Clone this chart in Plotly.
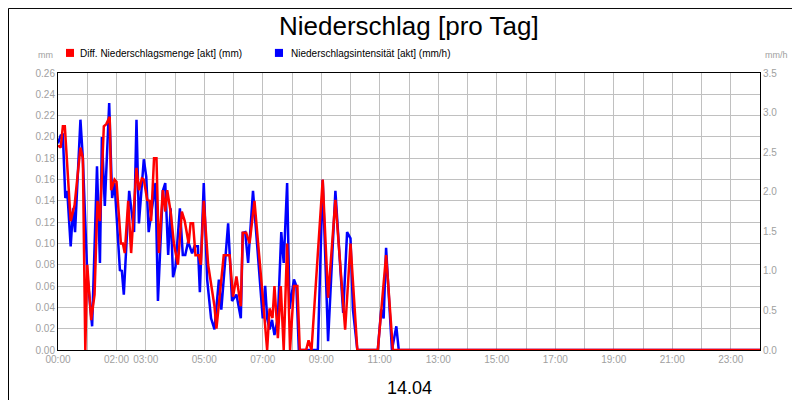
import plotly.graph_objects as go

# time in minutes since 00:00
red_t = [0,5.5,10,14,26,34,46,51,56,60,68,75,81,86,94,99,106,109,116,120,129,133,137,144,150,161,166,172,176,183,188,191,197,202,207,215,220,224,231,238,246,254,260,268,272,277,282,289,293,299,308,314,321,325,330,340,352,359,366,375,379,386,393,403,420,429,434,440,444,451,457,463,470,476,484,491,496,509,514,520,543,554,569,589,600,614,656,673,687,1440]
red_v = [0.192,0.190,0.21,0.21,0.121,0.136,0.19,0.18,0,0.08,0.028,0.052,0.14,0.121,0.21,0.212,0.219,0.15,0.16,0.158,0.10,0.10,0.091,0.14,0.091,0.171,0.15,0.161,0.16,0.141,0.14,0.121,0.18,0.18,0.091,0.15,0.13,0.15,0.13,0.099,0.08,0.13,0.121,0.10,0.119,0.119,0.089,0.089,0.08,0.14,0.08,0.061,0.041,0.02,0.041,0.089,0.089,0.05,0.069,0.041,0.11,0.11,0.10,0.14,0.05,0,0.039,0.03,0.06,0.011,0.06,0,0.10,0,0.06,0.06,0,0,0.009,0,0.16,0.049,0.141,0.019,0.10,0,0,0.089,0,0]

blue_t = [0,5.5,10,15,19,26,31,35,46,51,60,67,70,80,86,90,96,105,111,116,127,131,135,146,156,161,166,176,181,186,200,205,215,220,226,231,236,241,250,256,261,267,275,280,287,291,299,306,314,321,330,335,349,357,366,375,379,384,390,400,420,425,429,434,439,444,451,458,463,470,475,484,489,494,533,543,554,569,585,593,600,605,614,656,663,668,673,685,694,699,1440]
blue_v = [2.61,2.71,2.72,1.92,2.01,1.31,1.79,1.49,2.91,2.42,0.96,0.42,0.30,2.32,1.10,2.69,1.82,3.12,1.92,2.11,1.01,1.0,0.70,2.01,1.49,2.91,1.60,2.41,2.19,1.49,2.11,0.62,2.01,2.11,1.20,1.79,0.92,1.05,1.79,1.20,1.20,1.37,1.22,1.31,1.31,0.73,2.11,0.89,0.40,0.26,0.89,0.51,1.60,0.62,0.70,0.40,1.48,1.49,1.10,2.01,0.40,0.81,0.40,0.26,0.38,0.19,0.40,1.49,1.10,2.11,0.52,0.89,0.81,0,0,2.15,0.11,2.01,0.47,1.49,1.41,0.51,0,0,0.51,0.40,1.29,0,0.30,0,0]

tick_vals = [0,120,180,300,420,540,660,780,900,1020,1140,1260,1380]
tick_text = ["00:00","02:00","03:00","05:00","07:00","09:00","11:00","13:00","15:00","17:00","19:00","21:00","23:00"]

RED = "#ff0000"
BLUE = "#0000ff"
GRID = "#c0c0c0"
TXT = "#a0a0a0"

fig = go.Figure()
fig.add_trace(go.Scatter(x=blue_t, y=blue_v, mode="lines", yaxis="y",
                         line=dict(color=BLUE, width=2.5), showlegend=False))
fig.add_trace(go.Scatter(x=red_t, y=red_v, mode="lines", yaxis="y2",
                         line=dict(color=RED, width=2.5), showlegend=False))

fig.update_layout(
    width=800, height=400,
    margin=dict(l=50, r=48, t=65, b=58, autoexpand=False),
    paper_bgcolor="white", plot_bgcolor="white",
    font=dict(family="Liberation Sans, Arial", size=10, color=TXT),
    showlegend=False,
    xaxis=dict(range=[0,1440], tickvals=tick_vals, ticktext=tick_text, showgrid=True,
               gridcolor=GRID, gridwidth=1, zeroline=False, showline=True, linecolor="black",
               linewidth=1, mirror=True, ticks="", tickfont=dict(size=10, color=TXT),
               minor=dict(dtick=60, tick0=0, showgrid=True, gridcolor=GRID, gridwidth=1)),
    yaxis=dict(range=[0,3.5], dtick=0.5, tickformat=".1f", side="right", showgrid=False,
               zeroline=False, showline=True, linecolor="black", ticks="",
               tickfont=dict(size=10, color=TXT)),
    yaxis2=dict(range=[0,0.26], dtick=0.02, tickformat=".2f", side="left", overlaying="y",
                showgrid=True, gridcolor=GRID, zeroline=False, showline=True, linecolor="black",
                ticks="", tickfont=dict(size=10, color=TXT)),
    annotations=[
        dict(text="Niederschlag [pro Tag]", xref="paper", yref="paper", x=0.5, y=1.17,
             xanchor="center", yanchor="middle", showarrow=False, font=dict(size=26, color="black")),
        dict(text="Diff. Niederschlagsmenge [akt] (mm)", xref="paper", yref="paper", x=0.0285, y=1.072,
             xanchor="left", yanchor="middle", showarrow=False, font=dict(size=10, color="black")),
        dict(text="Niederschlagsintensität [akt] (mm/h)", xref="paper", yref="paper", x=0.329, y=1.072,
             xanchor="left", yanchor="middle", showarrow=False, font=dict(size=10, color="black")),
        dict(text="mm", xref="paper", yref="paper", x=-0.004, y=1.065, xanchor="right", yanchor="middle",
             showarrow=False, font=dict(size=9, color=TXT)),
        dict(text="mm/h", xref="paper", yref="paper", x=1.004, y=1.065, xanchor="left", yanchor="middle",
             showarrow=False, font=dict(size=9, color=TXT)),
        dict(text="14.04", xref="paper", yref="paper", x=0.5, y=-0.137, xanchor="center", yanchor="middle",
             showarrow=False, font=dict(size=18, color="black")),
    ],
    shapes=[
        dict(type="rect", xref="paper", yref="paper", x0=-0.0705, x1=1.067, y0=-0.2058, y1=1.233,
             line=dict(color="black", width=1), layer="below"),
        dict(type="rect", xref="paper", yref="paper", x0=0.0114, x1=0.0228, y0=1.058, y1=1.087,
             fillcolor=RED, line=dict(width=0)),
        dict(type="rect", xref="paper", yref="paper", x0=0.309, x1=0.3205, y0=1.058, y1=1.087,
             fillcolor=BLUE, line=dict(width=0)),
    ],
)

fig.write_html("out.html")
